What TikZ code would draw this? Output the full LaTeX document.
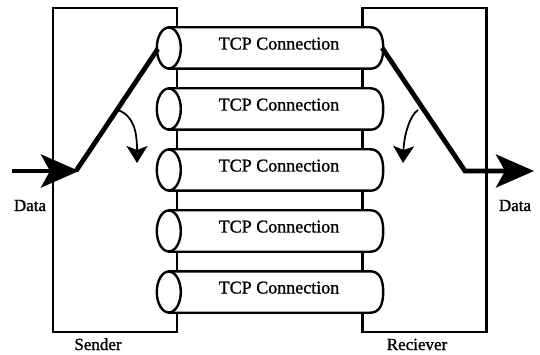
\documentclass[tikz,border=0pt]{standalone}
\usepackage{fontspec}
\setmainfont{Liberation Serif}
\newfontfamily\heavyserif{Liberation Serif}[FakeBold=1.2]
\usetikzlibrary{arrows.meta}
\begin{document}
\begin{tikzpicture}[x=1pt,y=-1pt,
  boxnode/.style={draw,line width=2.3pt,rectangle,inner sep=0pt,minimum width=124pt,minimum height=324pt},
  tcpbody/.style={rectangle,inner sep=0pt,minimum width=201pt,minimum height=41pt},
  tcpline/.style={draw,fill=white,line width=2.4pt},
  lbl/.style={inner sep=0pt,anchor=base,font=\heavyserif\fontsize{18}{21}\selectfont},
  sublbl/.style={inner sep=0pt,anchor=base,font=\heavyserif\fontsize{17}{20}\selectfont},
  flow/.style={line width=4.8pt,line join=miter},
  bigtip/.style={-{Stealth[length=38pt,width=33pt,inset=9pt]}},
  turn/.style={line width=1.8pt,-{Stealth[length=17pt,width=21pt,inset=4pt]}}
]
\useasboundingbox (0,0) rectangle (540,355);
\node[boxnode] (sender) at (115,170) {};
\node[boxnode] (receiver) at (424.5,170) {};
\foreach \i/\y in {1/48,2/109,3/170,4/231,5/292}{
  \node[tcpbody] (c\i) at (269.5,\y) {};
  \path[tcpline] (c\i.north west) -- (c\i.north east)
     .. controls +(9,0) and +(0,-13) .. ([xshift=13pt]c\i.east)
     .. controls +(0,13) and +(9,0) .. (c\i.south east)
     -- (c\i.south west) -- cycle;
  \path[tcpline] (c\i.west) ellipse [x radius=12pt, y radius=20.5pt];
  \node[lbl] (t\i) at (279,\y+1.5) {TCP Connection};
}
\node[sublbl] (dl) at (30,211) {Data};
\node[sublbl] (dr) at (515,211) {Data};
\node[sublbl] (sl) at (98,350) {Sender};
\node[sublbl] (rl) at (417,350) {Reciever};
\coordinate (inL) at (12,171);
\coordinate (jL) at (79,171);
\coordinate (jR) at (465,171);
\coordinate (outR) at (534,171);
\draw[flow,bigtip] (inL) -- (jL);
\draw[flow] (76,171) -- ([xshift=-11pt,yshift=-1pt]c1.west);
\draw[flow,bigtip] ([xshift=12pt]c1.east) -- (jR) -- (outR);
\coordinate (ca) at (118,110);
\coordinate (cb) at (137,163);
\coordinate (cc) at (418,110);
\coordinate (cd) at (403,163);
\draw[turn] (ca) .. controls (134,116) and (137,132) .. (cb);
\draw[turn] (cc) .. controls (410,115) and (404,135) .. (cd);
\end{tikzpicture}
\end{document}
